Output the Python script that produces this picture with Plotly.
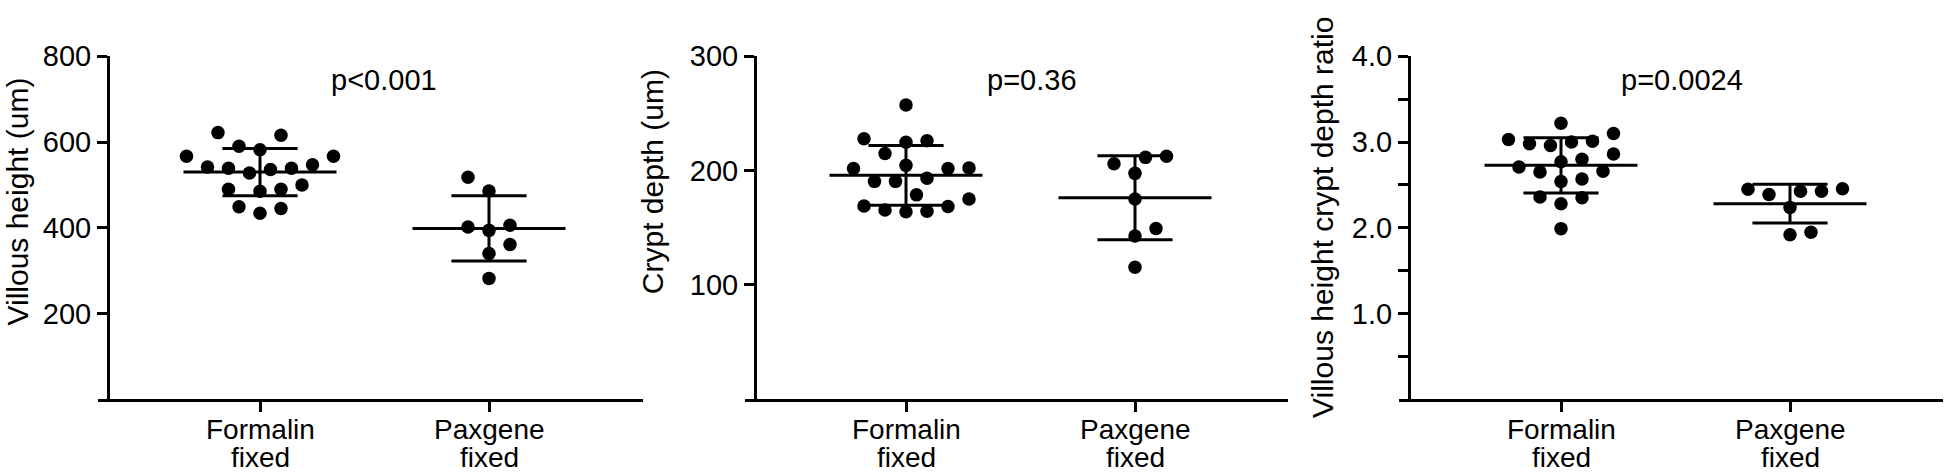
import numpy as np
import plotly.graph_objects as go

# values (one point per specimen)
groups = [("Formalin", "fixed"), ("Paxgene", "fixed")]

villous_formalin = [616, 622, 590, 567, 567, 582, 547, 539, 536, 539, 542, 528,
                    500, 490, 485, 490, 449, 434, 445]
villous_paxgene = [518, 486, 406, 394, 402, 361, 340, 282]

crypt_formalin = [257.4, 226.2, 224.8, 227.9, 215.0, 202.4, 201.8, 201.8, 204.6, 190.6,
                  190.6, 193.4, 178.8, 175.2, 169.0, 165.6, 164.0, 164.5, 168.7]
crypt_paxgene = [212.5, 206.0, 197.6, 175.2, 149.4, 142.9, 115.4, 211.6]

ratio_formalin = [3.22, 3.10, 3.01, 2.98, 2.96, 3.00, 3.03, 2.86, 2.80, 2.71,
                  2.65, 2.66, 2.77, 2.54, 2.57, 2.35, 2.36, 2.28, 1.99]
ratio_paxgene = [2.455, 2.425, 2.388, 2.238, 2.425, 2.45, 1.919, 1.949]

y_titles = ["Villous height (um)", "Crypt depth (um)", "Villous height crypt depth ratio"]
p_labels = ["p&lt;0.001", "p=0.36", "p=0.0024"]

W, H = 1946, 473
FONT = "Liberation Sans, Arial, Helvetica, sans-serif"

# layout of the three panels, in pixels
panels = [
    dict(data=[villous_formalin, villous_paxgene], x0=98, yax=108, x1=643, cat0=260,
         ymax=800, tickvals=[200, 400, 600, 800], ticktext=["200", "400", "600", "800"],
         title_x=18, title_y=192, p_x=384),
    dict(data=[crypt_formalin, crypt_paxgene], x0=745, yax=755, x1=1288, cat0=906,
         ymax=300, tickvals=[100, 200, 300], ticktext=["100", "200", "300"],
         title_x=652, title_y=172, p_x=1032),
    dict(data=[ratio_formalin, ratio_paxgene], x0=1399, yax=1409, x1=1943, cat0=1561,
         ymax=4, tickvals=[0.5, 1, 1.5, 2, 2.5, 3, 3.5, 4],
         ticktext=["", "1.0", "", "2.0", "", "3.0", "", "4.0"],
         title_x=1323, title_y=209, p_x=1682),
]
TOP, BOTTOM = 41.7, 396.7
PX_PER_CAT = 229.0


def swarm_offsets(values, px_per_value, step=10.5, gap=19.5):
    """Greedy beeswarm: lowest values near the centre, spread sideways when they collide."""
    vals = np.asarray(values, float)
    ys = vals * px_per_value
    placed = []
    offsets = np.zeros(len(vals))
    for i in np.argsort(vals, kind="stable"):
        balance = sum(np.sign(x) for x, _ in placed)
        first = -1 if balance > 0 else 1
        cands = [0.0]
        for m in range(1, 40):
            cands += [first * m * step, -first * m * step]
        for c in cands:
            if all((c - x) ** 2 + (ys[i] - y) ** 2 >= gap ** 2 for x, y in placed):
                break
        placed.append((c, ys[i]))
        offsets[i] = c / PX_PER_CAT
    return offsets


fig = go.Figure()
annotations = []
ydom = [1 - BOTTOM / H, 1 - TOP / H]

for k, p in enumerate(panels, start=1):
    xa = "x" if k == 1 else f"x{k}"
    ya = "y" if k == 1 else f"y{k}"
    px_per_value = (BOTTOM - TOP) / p["ymax"]

    # mean and SD lines
    lx, ly = [], []
    for g, vals in enumerate(p["data"]):
        m = np.mean(vals)
        s = np.std(vals, ddof=1)
        lx += [g - 0.334, g + 0.334, None, g - 0.164, g + 0.164, None,
               g - 0.164, g + 0.164, None, g, g, None]
        ly += [m, m, None, m + s, m + s, None, m - s, m - s, None, m - s, m + s, None]
    fig.add_trace(go.Scatter(x=lx, y=ly, mode="lines", xaxis=xa, yaxis=ya,
                             line=dict(color="black", width=3), hoverinfo="skip",
                             showlegend=False))

    # individual points
    for g, vals in enumerate(p["data"]):
        xs = g + swarm_offsets(vals, px_per_value)
        fig.add_trace(go.Scatter(x=xs, y=vals, mode="markers", xaxis=xa, yaxis=ya,
                                 marker=dict(color="black", size=13.5, line=dict(width=0)),
                                 showlegend=False))

    left = -(p["cat0"] - p["x0"]) / PX_PER_CAT
    right = (p["x1"] - p["cat0"]) / PX_PER_CAT
    axis_common = dict(showline=True, linecolor="black", linewidth=3, ticks="outside",
                       ticklen=10, tickwidth=3, tickcolor="black", showgrid=False,
                       zeroline=False, tickfont=dict(family=FONT, size=29, color="black"))
    fig.layout[f"xaxis{'' if k == 1 else k}"] = dict(
        domain=[p["x0"] / W, p["x1"] / W], range=[left, right], anchor=ya,
        tickmode="array", tickvals=[0, 1], ticktext=["", ""], **axis_common)
    fig.layout[f"yaxis{'' if k == 1 else k}"] = dict(
        domain=ydom, range=[0, p["ymax"]], anchor="free", position=p["yax"] / W,
        tickmode="array", tickvals=p["tickvals"], ticktext=p["ticktext"], **axis_common)

    # two-line category labels under the ticks
    for g, (line1, line2) in enumerate(groups):
        for txt, cy in ((line1, 427.5), (line2, 457)):
            annotations.append(dict(text=txt, x=g, y=1 - cy / H, xref=xa, yref="paper",
                                    showarrow=False, xanchor="center", yanchor="middle",
                                    font=dict(family=FONT, size=28, color="black")))

    annotations.append(dict(text=y_titles[k - 1], x=p["title_x"] / W, y=1 - p["title_y"] / H,
                            xref="paper", yref="paper", textangle=-90, showarrow=False,
                            xanchor="center", yanchor="middle",
                            font=dict(family=FONT, size=30, color="black")))
    annotations.append(dict(text=p_labels[k - 1], x=p["p_x"] / W, y=1 - 66 / H,
                            xref="paper", yref="paper", showarrow=False,
                            xanchor="center", yanchor="middle",
                            font=dict(family=FONT, size=29, color="black")))

fig.update_layout(width=W, height=H, margin=dict(l=0, r=0, t=0, b=0),
                  paper_bgcolor="white", plot_bgcolor="white",
                  annotations=annotations, showlegend=False)

# the page's default body margin would push the fixed-size figure off the window
fig.write_html("out.html", config={"displayModeBar": False},
               post_script="document.body.style.margin='0';document.body.style.overflow='hidden';")
